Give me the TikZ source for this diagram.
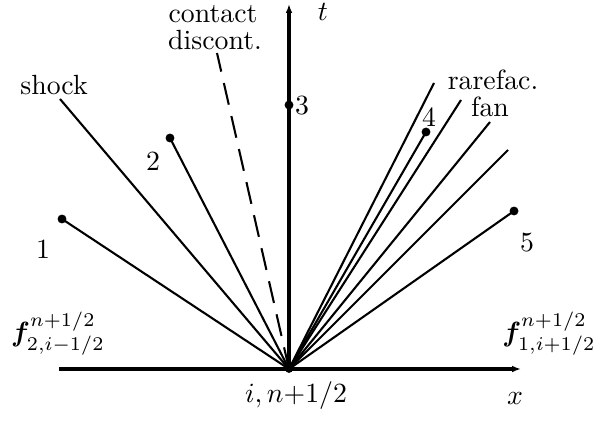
\documentclass[tikz,border=0pt]{standalone}
\usepackage{bm}
\usetikzlibrary{arrows.meta}
\begin{document}
\begin{tikzpicture}[x=0.36pt,y=-0.36pt,
  axis/.style={line width=1.1pt,-{Latex[length=3.2pt,width=2.4pt]}},
  wave/.style={line width=0.75pt},
  cdisc/.style={line width=0.75pt,dash pattern=on 8pt off 4.2pt},
  pt/.style={circle,fill,inner sep=0pt,minimum size=3.2pt},
  lbl/.style={inner sep=0pt}]
\useasboundingbox (0,0) rectangle (599,421);
\coordinate (O) at (289,369);
\coordinate (xl) at (59,369);
\coordinate (xr) at (521,369);
\coordinate (tb) at (289,369);
\coordinate (tt) at (289,4);
% axes
\draw[axis] (xl) -- (xr);
\draw[axis] (tb) -- (tt);
% endpoints
\node[pt] (p1) at (62,219) {};
\node[pt] (p2) at (170,138) {};
\node[pt] (p3) at (289,105) {};
\node[pt] (p4) at (426,132) {};
\node[pt] (p5) at (514,211) {};
\coordinate (sh) at (60,99);
\coordinate (cd) at (217,53);
\coordinate (r1) at (434,83);
\coordinate (r2) at (461,100);
\coordinate (r3) at (490,122);
\coordinate (r4) at (508,150);
% waves
\draw[wave] (O) -- (p1.center);
\draw[wave] (O) -- (sh);
\draw[wave] (O) -- (p2.center);
\draw[cdisc] (O) -- (cd);
\draw[wave] (O) -- (r1);
\draw[wave] (O) -- (r2);
\draw[wave] (O) -- (r3);
\draw[wave] (O) -- (r4);
\draw[wave] (O) -- (p4.center);
\draw[wave] (O) -- (p5.center);
\fill (O) circle (1.4pt);
% labels
\node[lbl] (lcontact) at (213,14) {contact};
\node[lbl] (ldisc) at (215,40) {discont.};
\node[lbl] (lt) at (323,12) {$t$};
\node[lbl] (lshock) at (54,85) {shock};
\node[lbl] (l2) at (153,161) {2};
\node[lbl] (l1) at (43,249) {1};
\node[lbl] (l3) at (302,106) {3};
\node[lbl] (l4) at (429,117) {4};
\node[lbl] (lrare) at (493,80) {rarefac.};
\node[lbl] (lfan) at (490,107) {fan};
\node[lbl] (l5) at (527,243) {5};
\node[lbl] (lfl) at (58,334) {$\bm{f}^{n+1/2}_{2,i-1/2}$};
\node[lbl] (lfr) at (549,334) {$\bm{f}^{n+1/2}_{1,i+1/2}$};
\node[lbl] (lO) at (296,396) {$i,n{+}1/2$};
\node[lbl] (lx) at (515,399) {$x$};
\end{tikzpicture}
\end{document}
